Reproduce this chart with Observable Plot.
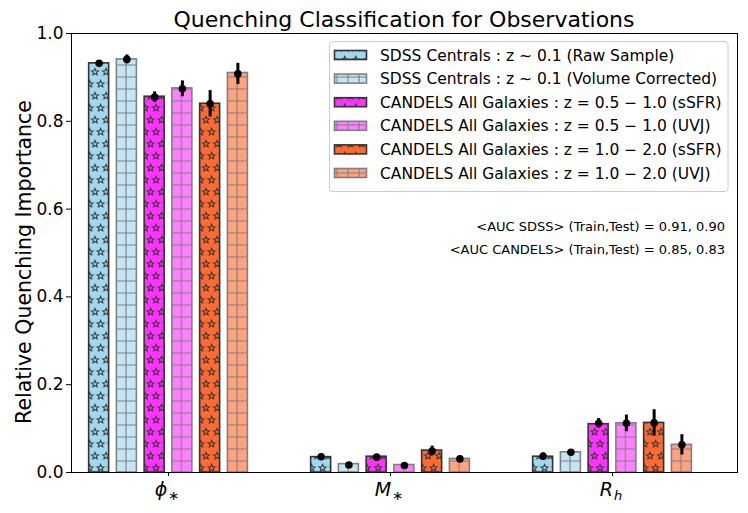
<!DOCTYPE html>
<html><head><meta charset="utf-8">
<script src="https://cdn.jsdelivr.net/npm/d3@7"></script>
<script src="https://cdn.jsdelivr.net/npm/@observablehq/plot@0.6"></script>
<style>
body{margin:0;background:#fff}
#chart{position:relative;width:748px;height:513px}
</style>
</head><body><div id="chart"></div>
<script>
// ---- data ----
const groupLabels = [["ϕ", "∗", false], ["M", "∗", false], ["R", "h", true]];
const seriesNames = [
  "SDSS Centrals : z ∼ 0.1 (Raw Sample)",
  "SDSS Centrals : z ∼ 0.1 (Volume Corrected)",
  "CANDELS All Galaxies : z = 0.5 − 1.0 (sSFR)",
  "CANDELS All Galaxies : z = 0.5 − 1.0 (UVJ)",
  "CANDELS All Galaxies : z = 1.0 − 2.0 (sSFR)",
  "CANDELS All Galaxies : z = 1.0 − 2.0 (UVJ)"
];
const phiValues = [0.932, 0.941, 0.856, 0.875, 0.840, 0.910];
const phiMeans  = [0.932, 0.941, 0.855, 0.874, 0.840, 0.908];
const phiErrors = [0.005, 0.010, 0.012, 0.018, 0.030, 0.024];
const mValues   = [0.035, 0.019, 0.036, 0.017, 0.050, 0.031];
const mMeans    = [0.036, 0.017, 0.035, 0.016, 0.049, 0.031];
const mErrors   = [0.006, 0.004, 0.004, 0.003, 0.011, 0.004];
const rValues   = [0.036, 0.046, 0.110, 0.112, 0.113, 0.063];
const rMeans    = [0.037, 0.046, 0.112, 0.112, 0.113, 0.063];
const rErrors   = [0.008, 0.005, 0.011, 0.019, 0.030, 0.023];
const yTicks = [0, 0.2, 0.4, 0.6, 0.8, 1.0];
const titleText = "Quenching Classification for Observations";
const yLabelText = "Relative Quenching Importance";
const aucTexts = ["<AUC SDSS> (Train,Test) = 0.91, 0.90", "<AUC CANDELS> (Train,Test) = 0.85, 0.83"];

// ---- styles ----
const faceColors = ["#9fd8ef", "#c3e6f5", "#ff33ff", "#ff80ff", "#ff6a33", "#ffa280"];
const edgeColors = ["#333333", "#808080", "#333333", "#808080", "#333333", "#808080"];
const hatchKinds = ["star", "grid", "star", "grid", "star", "grid"];

const valueSets = [phiValues, mValues, rValues];
const meanSets = [phiMeans, mMeans, rMeans];
const errSets = [phiErrors, mErrors, rErrors];
const rows = groupLabels.flatMap((g, gi) => seriesNames.map((s, si) => ({
  gi, si, value: valueSets[gi][si], mean: meanSets[gi][si], err: errSets[gi][si]
})));
const pitch = 0.125, barW = 0.09;
const xc = d => d.gi + (d.si - 2.5) * pitch;

const FONT = "DejaVu Sans";
const fig = Plot.plot({
  width: 748, height: 513,
  marginLeft: 71, marginRight: 11, marginTop: 33, marginBottom: 41,
  style: {fontFamily: FONT, fontSize: "17px", color: "black", background: "white"},
  x: {domain: [-0.437, 2.563]},
  y: {domain: [0, 1]},
  marks: [
    ...seriesNames.map((s, si) => Plot.rect(rows.filter(d => d.si === si), {
      x1: d => xc(d) - barW / 2, x2: d => xc(d) + barW / 2, y1: 0, y2: "value",
      fill: `url(#hatch${si})`, stroke: edgeColors[si], strokeWidth: 1.6
    })),
    Plot.ruleX(rows, {x: xc, y1: d => d.mean - d.err, y2: d => d.mean + d.err, stroke: "black", strokeWidth: 3}),
    Plot.dot(rows, {x: xc, y: "mean", r: 3.8, fill: "black", stroke: "none"}),
    Plot.frame({stroke: "black", strokeWidth: 1}),
    Plot.axisY({ticks: yTicks, tickFormat: d3.format(".1f"), tickSize: 5, tickPadding: 3, fontSize: 17, label: null}),
    Plot.axisX({ticks: [0, 1, 2], tickFormat: () => "", tickSize: 4, label: null})
  ]
});
document.getElementById("chart").appendChild(fig);

const svg = d3.select(fig.tagName.toLowerCase() === "svg" ? fig : fig.querySelector("svg"));
const xs = fig.scale("x");

// ---- hatch patterns ----
const defs = svg.insert("defs", ":first-child");
const HW = 11.1, HH = 12;
function starPath(cx, cy, R, r) {
  let p = "";
  for (let k = 0; k < 10; k++) {
    const a = -Math.PI / 2 + k * Math.PI / 5, rad = k % 2 ? r : R;
    p += (k ? "L" : "M") + (cx + rad * Math.cos(a)).toFixed(2) + "," + (cy + rad * Math.sin(a)).toFixed(2);
  }
  return p + "Z";
}
seriesNames.forEach((s, si) => {
  const star = hatchKinds[si] === "star";
  const w = HW, h = star ? 2 * HH : HH;
  const p = defs.append("pattern").attr("id", `hatch${si}`).attr("patternUnits", "userSpaceOnUse")
    .attr("width", w).attr("height", h);
  p.append("rect").attr("width", w).attr("height", h).attr("fill", faceColors[si]);
  if (star) {
    const centers = [[6.2, 0], [0.65, HH]];
    let d = "";
    for (const [cx, cy] of centers) for (const ox of [-w, 0, w]) for (const oy of [-h, 0, h])
      d += starPath(cx + ox, cy + oy, 3.7, 1.6);
    p.append("path").attr("d", d).attr("fill", "none").attr("stroke", edgeColors[si]).attr("stroke-width", 1.0);
  } else {
    p.append("path").attr("d", `M3.9,0V${h}M0,5H${w}`).attr("stroke", edgeColors[si]).attr("stroke-width", 1.1);
  }
});

// ---- x tick labels (math) ----
groupLabels.forEach(([main, sub, subItalic], gi) => {
  const t = svg.append("text").attr("x", xs.apply(gi) - 1).attr("y", 496)
    .attr("text-anchor", "middle").attr("font-family", FONT).attr("font-size", 19).attr("fill", "black");
  t.append("tspan").attr("font-style", "italic").text(main);
  t.append("tspan").attr("font-size", 13).attr("dy", 4).attr("dx", 1)
    .attr("font-style", subItalic ? "italic" : "normal").text(sub);
});

// ---- title, y label, annotations ----
svg.append("text").attr("x", 404).attr("y", 27).attr("text-anchor", "middle")
  .attr("font-family", FONT).attr("font-size", 22).attr("fill", "black").text(titleText);
svg.append("text").attr("transform", "translate(31,262) rotate(-90)").attr("text-anchor", "middle")
  .attr("font-family", FONT).attr("font-size", 20.5).attr("fill", "black").text(yLabelText);
aucTexts.forEach((t, i) => svg.append("text").attr("x", 725).attr("y", 231 + i * 23)
  .attr("text-anchor", "end").attr("font-family", FONT).attr("font-size", 13).attr("fill", "black").text(t));

// ---- legend ----
const lg = svg.append("g").attr("text-anchor", "start");
lg.append("rect").attr("x", 329.5).attr("y", 41.5).attr("width", 398.5).attr("height", 150).attr("rx", 3)
  .attr("fill", "white").attr("fill-opacity", 0.8).attr("stroke", "#cccccc");
seriesNames.forEach((s, si) => {
  const cy = 55 + si * 23.6;
  lg.append("rect").attr("x", 334.5).attr("y", cy - 4.5).attr("width", 32).attr("height", 9)
    .attr("fill", `url(#hatch${si})`).attr("stroke", edgeColors[si]).attr("stroke-width", 1.6);
  lg.append("text").attr("x", 380).attr("y", cy + 5.5).attr("text-anchor", "start")
    .attr("font-family", FONT).attr("font-size", 15.5).attr("fill", "black").text(s);
});
</script>
</body></html>
